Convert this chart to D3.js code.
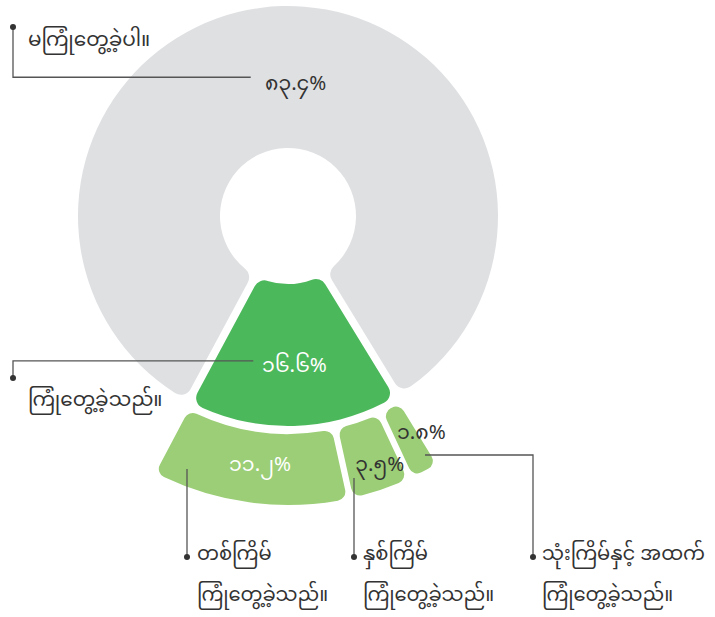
<!DOCTYPE html>
<html><head><meta charset="utf-8">
<script src="https://cdn.jsdelivr.net/npm/d3@7"></script>
<style>
html,body{margin:0;padding:0;background:#fff;}
svg text{font-family:"Noto Sans Myanmar","Padauk","Myanmar Text","Noto Sans",sans-serif;}
</style></head>
<body><svg id="chart" width="715" height="617"></svg>
<script>
// Data
const mainCategories = ["ကြုံတွေ့ခဲ့သည်။", "မကြုံတွေ့ခဲ့ပါ။"];
const mainValues = [16.6, 83.4];
const mainLabels = ["၁၆.၆%", "၈၃.၄%"];
const subCategories = ["သုံးကြိမ်နှင့် အထက်|ကြုံတွေ့ခဲ့သည်။", "နှစ်ကြိမ်|ကြုံတွေ့ခဲ့သည်။", "တစ်ကြိမ်|ကြုံတွေ့ခဲ့သည်။"];
const subValues = [1.8, 3.5, 11.2];
const subLabels = ["၁.၈%", "၃.၅%", "၁၁.၂%"];

const svg = d3.select("#chart");
const cx = 288, cy = 216;
const g = svg.append("g").attr("transform", `translate(${cx},${cy})`);
const deg = Math.PI / 180;
const start = 148.5 * deg;

const mainPie = d3.pie().sort(null).value(d => d)
  .startAngle(start).endAngle(start + 2 * Math.PI);
const mainArcs = mainPie(mainValues);
const mainArc = d3.arc().innerRadius(68).outerRadius(210)
  .cornerRadius(11).padAngle(0.035).padRadius(222);
const mainColors = ["#4cb85c", "#dfe0e2"];
g.selectAll("path.main").data(mainArcs).join("path")
  .attr("class", "main").attr("d", mainArc)
  .attr("fill", (d, i) => mainColors[i]);

const subTotal = d3.sum(subValues);
const subPie = d3.pie().sort(null).value(d => d)
  .startAngle(start).endAngle(start + subTotal / 100 * 2 * Math.PI);
const subArcs = subPie(subValues);
const subArc = d3.arc().innerRadius(218).outerRadius(289)
  .cornerRadius(9).padAngle(0.025).padRadius(250);
g.selectAll("path.sub").data(subArcs).join("path")
  .attr("class", "sub").attr("d", subArc)
  .attr("fill", "#9bce76");

// helpers
const polar = (r, a) => [r * Math.sin(a), -r * Math.cos(a)];
const lineCol = "#555";
const textCol = "#333";
const fsVal = 20.5, fsCat = 20, fsSub = 19.5;

function leader(points) {
  svg.append("path")
    .attr("d", d3.line()(points))
    .attr("fill", "none").attr("stroke", lineCol).attr("stroke-width", 1.3);
  const p = points[points.length - 1];
  svg.append("circle").attr("cx", p[0]).attr("cy", p[1]).attr("r", 3).attr("fill", textCol);
}
function txt(x, y, s, col, size, anchor) {
  return svg.append("text").attr("x", x).attr("y", y).text(s)
    .attr("fill", col).attr("font-size", size)
    .attr("text-anchor", anchor || "start")
    .attr("dominant-baseline", "central");
}

// main value labels
const greenMid = (mainArcs[0].startAngle + mainArcs[0].endAngle) / 2;
const [gx, gy] = polar(152, greenMid);
txt(cx + gx + 2, cy + gy, mainLabels[0], "#fff", fsVal, "middle");
const greyMid = (mainArcs[1].startAngle + mainArcs[1].endAngle) / 2;
const [hx, hy] = polar(131, greyMid + 5 * deg);
txt(cx + hx, cy + hy, mainLabels[1], textCol, fsVal, "middle");

// main category labels with leaders
leader([[cx + gx - 39, cy + gy - 7], [13, cy + gy - 7], [13, 378]]);
txt(28, 401, mainCategories[0], textCol, fsCat);
leader([[cx + hx - 45, cy + hy - 8], [13, cy + hy - 8], [13, 27]]);
txt(28, 41, mainCategories[1], textCol, fsCat);

// sub value labels
const subPos = [
  { r: 250, col: textCol, off: [15, -2] },
  { r: 258, col: textCol, off: [9, 6] },
  { r: 252, col: "#fff", off: [6, 1] }
];
const subXY = subArcs.map((d, i) => {
  const m = (d.startAngle + d.endAngle) / 2;
  const [x, y] = polar(subPos[i].r, m);
  return [cx + x + subPos[i].off[0], cy + y + subPos[i].off[1]];
});
subXY.forEach((p, i) => txt(p[0], p[1], subLabels[i], subPos[i].col, fsVal, "middle"));

// sub category leaders and labels
leader([[425, 455], [533, 455], [533, 557]]);
leader([[354, 478], [354, 557]]);
leader([[187, 469], [187, 557]]);
const subLabelX = [542, 363, 197];
subCategories.forEach((c, i) => {
  const parts = c.split("|");
  txt(subLabelX[i], 555, parts[0], textCol, fsSub);
  txt(subLabelX[i], 596, parts[1], textCol, fsSub);
});
</script></body></html>
